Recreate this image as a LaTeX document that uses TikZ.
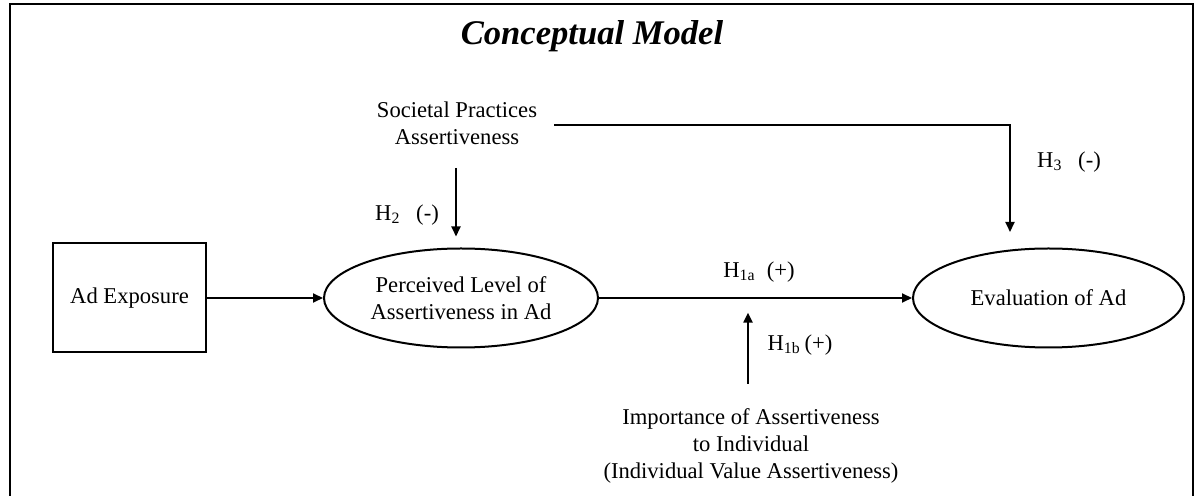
\documentclass[tikz,border=0pt]{standalone}
\usepackage{fontspec}
\setmainfont{Liberation Serif}
\usetikzlibrary{arrows.meta, shapes.geometric, positioning}

\begin{document}
\begin{tikzpicture}[x=0.5pt, y=-0.5pt, line width=1pt,
	every node/.style={font=\fontsize{11.3}{13.6}\selectfont, align=center},
	box/.style={draw, rectangle, inner sep=0pt, minimum width=76.5pt, minimum height=54.5pt},
	oval/.style={draw, ellipse, inner sep=0pt, minimum width=137pt, minimum height=49.5pt},
	arr/.style={-{Triangle[length=5pt,width=4.5pt]}}]
	\useasboundingbox (0,0) rectangle (1195,496);
	\draw[line width=1.2pt] (10,496) -- (10,4) -- (1193,4) -- (1193,496);

	\draw (592,45) node[anchor=base, font=\fontsize{17.3}{20}\selectfont\bfseries\itshape] (title) {Conceptual Model}
		(129.5,298) node[box] (adexp) {Ad Exposure}
		(461,298) node[oval] (perc) {Perceived Level of\\Assertiveness in Ad}
		(1048.5,298) node[oval, minimum width=135.5pt] (eval) {Evaluation of Ad}
		(457,123.5) node (soc) {Societal Practices\\Assertiveness}
		(751,446) node (imp) {Importance of Assertiveness\\to Individual\\(Individual Value Assertiveness)};

	% free ends of the moderator arrows
	\coordinate (h2top) at (456,168);
	\coordinate (h3start) at (554,125);
	\coordinate (h3tip) at (1010,232);
	\coordinate (h1bfoot) at (748,384);

	\draw[arr] (adexp) -- (perc);
	\draw[arr] (perc) -- (eval);
	\draw[arr, shorten >=5.5pt] (h2top) -- (h2top |- perc.north);
	\draw[arr] (h3start) -| (h3tip);
	\draw[arr, shorten >=7.3pt] (h1bfoot) -- (h1bfoot |- perc.east);

	\draw (407,215) node (h2lbl) {H\textsubscript{2}\hspace{0.7em}(-)}
		(1069,162) node (h3lbl) {H\textsubscript{3}\hspace{0.7em}(-)}
		(759,272) node (h1albl) {H\textsubscript{1a}\hspace{0.5em}(+)}
		(800,345) node (h1blbl) {H\textsubscript{1b}\,(+)};
\end{tikzpicture}
\end{document}
